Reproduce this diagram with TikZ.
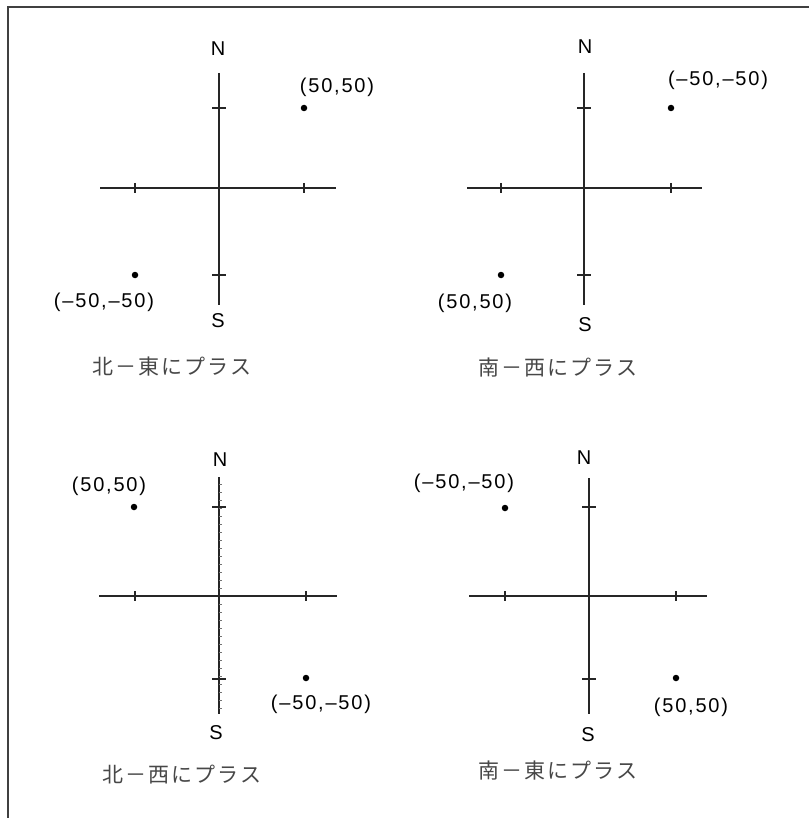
\documentclass[tikz,border=0pt]{standalone}
\usepackage{fontspec}
\setmainfont{Liberation Sans}[LetterSpace=9]
\newfontfamily\jpfont[LetterSpace=10]{Noto Sans CJK JP}
\begin{document}
\begin{tikzpicture}[x=1pt,y=-1pt,
  axisline/.style={line width=1.6pt, black!85},
  tickmark/.style={line width=1.4pt, black!85},
  minortick/.style={line width=0.6pt, black!55},
  frameline/.style={line width=2.2pt, black!75},
  dotpt/.style={circle, fill=black, inner sep=0pt, minimum size=6.5pt},
  dirlabel/.style={font=\fontsize{20}{22}\selectfont, inner sep=0pt},
  coordlabel/.style={font=\fontsize{20}{22}\selectfont, inner sep=0pt},
  caption/.style={font=\jpfont\fontsize{21}{24}\selectfont, text=black!72, inner sep=0pt}]
\useasboundingbox (0,0) rectangle (809,818);
% frame
\coordinate (fbl) at (8,818);
\coordinate (ftl) at (8,7);
\coordinate (ftr) at (809,7);
\draw[frameline] (fbl) -- (ftl) -- (ftr);

% ===== panel 1 : top-left =====
\coordinate (p1n) at (219,73);  \coordinate (p1s) at (219,305);
\coordinate (p1w) at (100,188); \coordinate (p1e) at (336,188);
\draw[axisline] (p1n) -- (p1s);
\draw[axisline] (p1w) -- (p1e);
\draw[tickmark] (212,108) -- (226,108);
\draw[tickmark] (212,275) -- (226,275);
\draw[tickmark] (135,183) -- (135,193);
\draw[tickmark] (304,183) -- (304,193);
\node[dirlabel] (p1N) at (218,49) {N};
\node[dirlabel] (p1S) at (218,321) {S};
\node[dotpt] (p1a) at (304,108) {};
\node[dotpt] (p1b) at (135,275) {};
\node[coordlabel] (p1al) at (337,87) {(50,50)};
\node[coordlabel] (p1bl) at (104,302) {(–50,–50)};
\node[caption] (p1c) at (172,367) {北－東にプラス};

% ===== panel 2 : top-right =====
\coordinate (p2n) at (584,73);  \coordinate (p2s) at (584,305);
\coordinate (p2w) at (467,188); \coordinate (p2e) at (702,188);
\draw[axisline] (p2n) -- (p2s);
\draw[axisline] (p2w) -- (p2e);
\draw[tickmark] (577,108) -- (591,108);
\draw[tickmark] (577,275) -- (591,275);
\draw[tickmark] (501,183) -- (501,193);
\draw[tickmark] (671,183) -- (671,193);
\node[dirlabel] (p2N) at (585,47) {N};
\node[dirlabel] (p2S) at (585,325) {S};
\node[dotpt] (p2a) at (671,108) {};
\node[dotpt] (p2b) at (501,275) {};
\node[coordlabel] (p2al) at (718,80) {(–50,–50)};
\node[coordlabel] (p2bl) at (475,303) {(50,50)};
\node[caption] (p2c) at (558,368) {南－西にプラス};

% ===== panel 3 : bottom-left =====
\coordinate (p3n) at (219,477); \coordinate (p3s) at (219,714);
\coordinate (p3w) at (99,596);  \coordinate (p3e) at (337,596);
\draw[axisline] (p3n) -- (p3s);
\foreach \yy in {484,492,...,712} \draw[minortick] (219,\yy) -- (222,\yy);
\draw[axisline] (p3w) -- (p3e);
\draw[tickmark] (212,507) -- (226,507);
\draw[tickmark] (212,679) -- (226,679);
\draw[tickmark] (135,591) -- (135,601);
\draw[tickmark] (306,591) -- (306,601);
\node[dirlabel] (p3N) at (220,460) {N};
\node[dirlabel] (p3S) at (216,733) {S};
\node[dotpt] (p3a) at (134,507) {};
\node[dotpt] (p3b) at (306,678) {};
\node[coordlabel] (p3al) at (109,486) {(50,50)};
\node[coordlabel] (p3bl) at (321,704) {(–50,–50)};
\node[caption] (p3c) at (182,775) {北－西にプラス};

% ===== panel 4 : bottom-right =====
\coordinate (p4n) at (589,478); \coordinate (p4s) at (589,714);
\coordinate (p4w) at (469,596); \coordinate (p4e) at (707,596);
\draw[axisline] (p4n) -- (p4s);
\draw[axisline] (p4w) -- (p4e);
\draw[tickmark] (582,507) -- (596,507);
\draw[tickmark] (582,679) -- (596,679);
\draw[tickmark] (505,591) -- (505,601);
\draw[tickmark] (676,591) -- (676,601);
\node[dirlabel] (p4N) at (584,458) {N};
\node[dirlabel] (p4S) at (588,735) {S};
\node[dotpt] (p4a) at (505,508) {};
\node[dotpt] (p4b) at (676,678) {};
\node[coordlabel] (p4al) at (464,483) {(–50,–50)};
\node[coordlabel] (p4bl) at (691,707) {(50,50)};
\node[caption] (p4c) at (558,771) {南－東にプラス};
\end{tikzpicture}
\end{document}
